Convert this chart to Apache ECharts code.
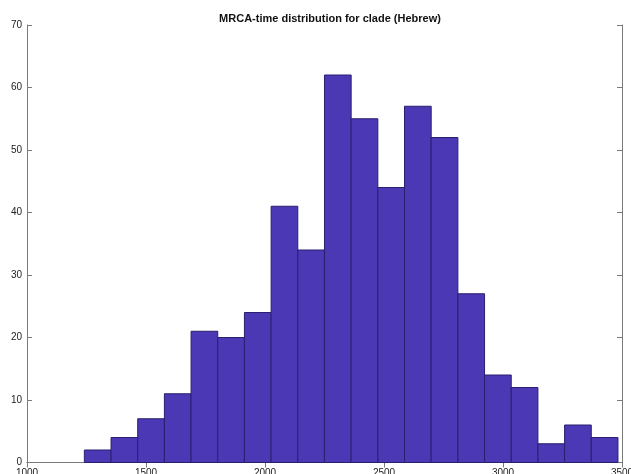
<!DOCTYPE html>
<html>
<head>
<meta charset="utf-8">
<script src="https://cdn.jsdelivr.net/npm/echarts@6/dist/echarts.min.js"></script>
<style>
  html, body { margin: 0; padding: 0; background: #fff; }
  #chart { width: 631px; height: 474px; }
</style>
</head>
<body>
<div id="chart"></div>
<script>
// histogram bins (20 bins from binLo to binHi)
const binLo = 1241
const binHi = 3483
const counts = [2, 4, 7, 11, 21, 20, 24, 41, 34, 62, 55, 44, 57, 52, 27, 14, 12, 3, 6, 4]
const xTicks = [1000, 1500, 2000, 2500, 3000, 3500]
const yTicks = [0, 10, 20, 30, 40, 50, 60, 70]

const binW = (binHi - binLo) / counts.length
const barData = counts.map((c, i) => [binLo + i * binW, binLo + (i + 1) * binW, c])

const chart = echarts.init(document.getElementById('chart'), null, { renderer: 'canvas' })

const axisLine = { show: true, lineStyle: { color: '#7a7a7a', width: 1 } }
const axisTick = { show: true, inside: true, length: 5, lineStyle: { color: '#7a7a7a' } }
const labelStyle = { color: '#222', fontSize: 10, fontFamily: 'Liberation Sans, Arial, sans-serif' }

chart.setOption({
  animation: false,
  backgroundColor: '#fff',
  title: {
    text: 'MRCA-time distribution for clade (Hebrew)',
    left: 325,
    top: 8,
    textAlign: 'center',
    textStyle: { fontSize: 11, fontWeight: 'bold', color: '#111', fontFamily: 'Liberation Sans, Arial, sans-serif' }
  },
  grid: { left: 27, right: 9, top: 25, bottom: 11.5, containLabel: false, outerBoundsMode: 'none' },
  xAxis: [
    {
      type: 'value', min: xTicks[0], max: xTicks[xTicks.length - 1], interval: 500,
      position: 'bottom', axisLine, axisTick,
      axisLabel: { ...labelStyle, margin: 6, showMinLabel: true, showMaxLabel: true, formatter: v => String(v) },
      splitLine: { show: false }
    },
    {
      type: 'value', min: xTicks[0], max: xTicks[xTicks.length - 1], interval: 500,
      position: 'top', axisLine, axisTick,
      axisLabel: { show: false }, splitLine: { show: false }
    }
  ],
  yAxis: [
    {
      type: 'value', min: yTicks[0], max: yTicks[yTicks.length - 1], interval: 10,
      position: 'left', axisLine, axisTick,
      axisLabel: { ...labelStyle, margin: 5 },
      splitLine: { show: false }
    },
    {
      type: 'value', min: yTicks[0], max: yTicks[yTicks.length - 1], interval: 10,
      position: 'right', axisLine, axisTick,
      axisLabel: { show: false }, splitLine: { show: false }
    }
  ],
  series: [{
    type: 'custom',
    xAxisIndex: 0,
    yAxisIndex: 0,
    data: barData,
    renderItem: (params, api) => {
      const p0 = api.coord([api.value(0), api.value(2)])
      const p1 = api.coord([api.value(1), 0])
      return {
        type: 'rect',
        shape: { x: p0[0], y: p0[1], width: p1[0] - p0[0], height: p1[1] - p0[1] },
        style: { fill: '#4a38b4', stroke: '#2a1f6e', lineWidth: 1 }
      }
    }
  }]
})
</script>
</body>
</html>
